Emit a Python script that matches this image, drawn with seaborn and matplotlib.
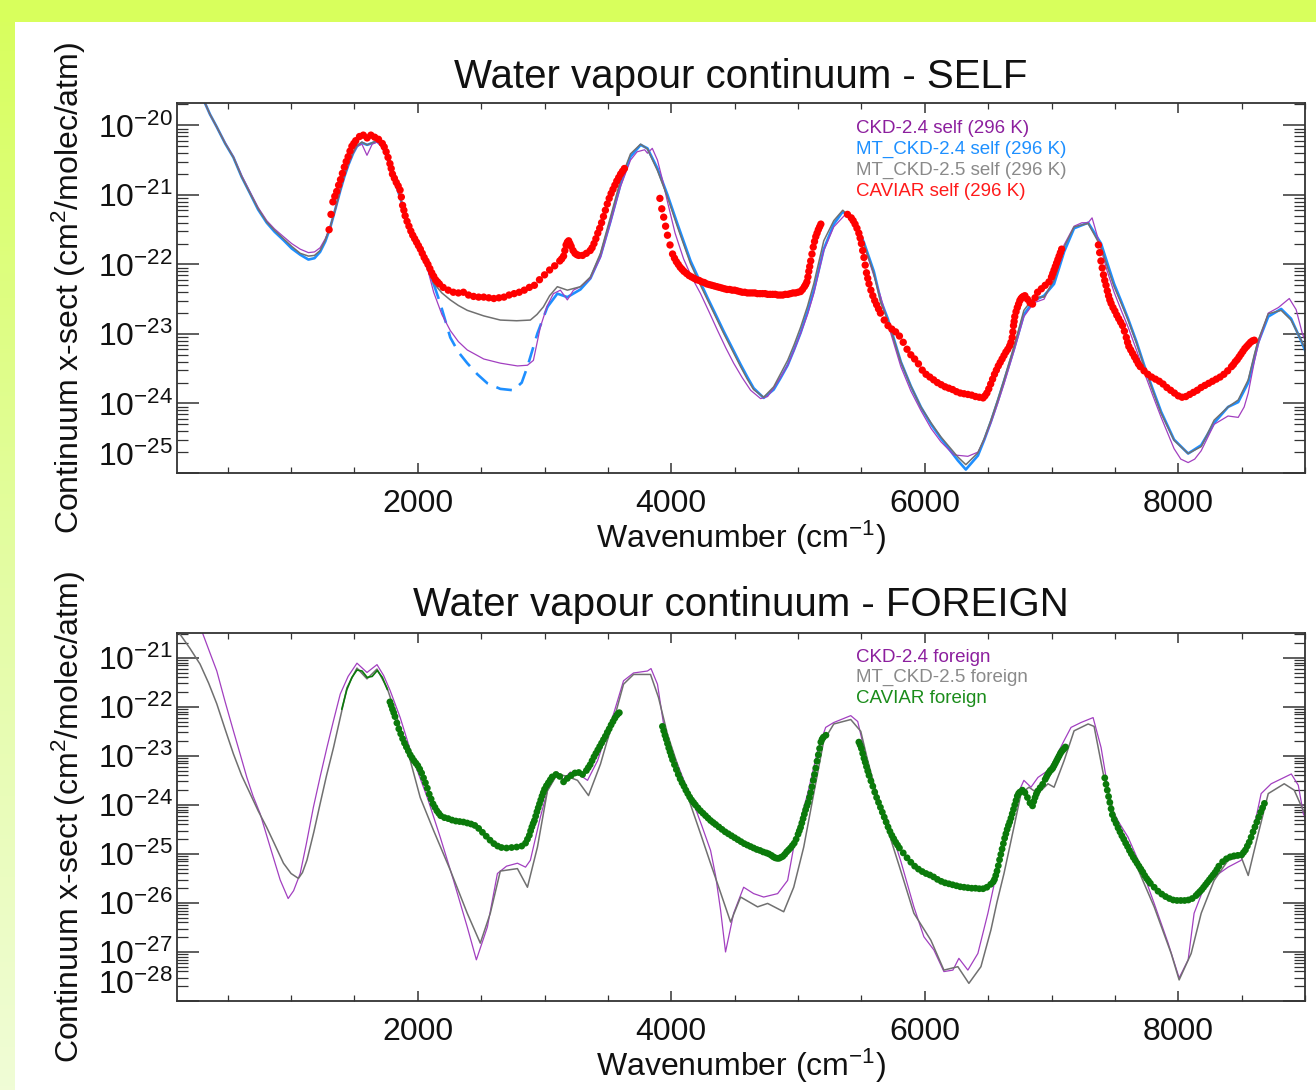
import numpy as np
import pandas as pd
import matplotlib
matplotlib.use("Agg")
import matplotlib.pyplot as plt
import seaborn as sns
from matplotlib.ticker import LogLocator, MultipleLocator, NullFormatter
from matplotlib.colors import LinearSegmentedColormap
from matplotlib.patches import Rectangle

# ---------------- DATA (log10 of cross-section, cm^2/molec/atm) ----------------
# --- SELF panel ---
ckd24_self_wn = [250, 321, 360, 413, 480, 545, 610, 677, 740, 808, 870, 940, 1005, 1072, 1137, 1185, 1229, 1270,
                 1309, 1350, 1388, 1420, 1454, 1490, 1520, 1559, 1599, 1640,
                 1678, 1720, 1757, 1809, 1861, 1914, 1993, 2072, 2125, 2190, 2256, 2320, 2390, 2520, 2651, 2786,
                 2865, 2912, 2967, 3020, 3070, 3125, 3180, 3228, 3283, 3362, 3441, 3520, 3599, 3678, 3730, 3790,
                 3812, 3850, 3891, 3930, 3970, 4030, 4097, 4160, 4231, 4300, 4365, 4430, 4492, 4560, 4626, 4705,
                 4760, 4808, 4860, 4918, 4970, 5021, 5075, 5124, 5203, 5282, 5369, 5440, 5500, 5550, 5600, 5653,
                 5730, 5811, 5890, 5969, 6050, 6127, 6230, 6340, 6419, 6470, 6522, 6575, 6625, 6703, 6782, 6862,
                 6941, 7020, 7060, 7099, 7178, 7240, 7289, 7320, 7391, 7440, 7494, 7550, 7604, 7670, 7731, 7800,
                 7865, 7967, 8020, 8078, 8130, 8181, 8283, 8393, 8473, 8520, 8552, 8600, 8631, 8710, 8790,
                 8876, 8930, 8980, 9050]
ckd24_self_log = [-19.45, -19.68, -19.84, -20.02, -20.25, -20.45, -20.72, -20.96, -21.18, -21.37, -21.49, -21.60,
                  -21.70, -21.78, -21.83, -21.82, -21.76, -21.63, -21.46, -21.20, -20.94, -20.74, -20.56, -20.40,
                  -20.30, -20.27, -20.43, -20.27,
                  -20.24, -20.31, -20.46, -20.75, -21.04, -21.37, -21.71, -22.03, -22.40, -22.72, -22.95, -23.11,
                  -23.23, -23.36, -23.42, -23.46, -23.45, -23.38, -22.90, -22.60, -22.42, -22.37, -22.51, -22.37,
                  -22.32, -22.20, -21.90, -21.40, -20.88, -20.50, -20.38, -20.35, -20.40, -20.33, -20.50, -20.78,
                  -21.10, -21.55, -21.92, -22.18, -22.42, -22.69, -22.95, -23.20, -23.42, -23.63, -23.81, -23.93,
                  -23.90, -23.78, -23.63, -23.45, -23.23, -22.99, -22.72, -22.42, -21.80, -21.46, -21.29, -21.36,
                  -21.60, -21.89, -22.17, -22.47, -22.98, -23.47, -23.82, -24.10, -24.36, -24.55, -24.74, -24.76,
                  -24.70, -24.52, -24.28, -24.00, -23.72, -23.25, -22.75, -22.55, -22.50, -22.20, -21.95, -21.72,
                  -21.45, -21.40, -21.40, -21.33, -21.78, -22.10, -22.40, -22.66, -22.90, -23.23, -23.55, -23.89,
                  -24.20, -24.65, -24.80, -24.85, -24.80, -24.68, -24.30, -24.18, -24.20, -24.05, -23.85, -23.40,
                  -23.15, -22.70, -22.62, -22.49, -22.65, -23.00, -23.30]

mtckd24_self_wn = [250, 321, 360, 413, 480, 545, 610, 677, 740, 808, 870, 940, 1005, 1072, 1137, 1185, 1229, 1270,
                   1309, 1350, 1388, 1420, 1454, 1490, 1520, 1559, 1600, 1678, 1720,
                   1757, 1809, 1861, 1914, 1993, 2072, 2125, 2177, 2256, 2320, 2390, 2470, 2549, 2651, 2754, 2820,
                   2865, 2944, 3023, 3101, 3180, 3283, 3362, 3441, 3520, 3599, 3678, 3758, 3812, 3891, 3970, 4049,
                   4152, 4220, 4286, 4350, 4413, 4480, 4547, 4600, 4650, 4729, 4808, 4860, 4918, 4970, 5021, 5075,
                   5124, 5203, 5282, 5353, 5440, 5519, 5598, 5653, 5708, 5811, 5890, 5969, 6050, 6127, 6261, 6324,
                   6419, 6470, 6522, 6575, 6625, 6703, 6782, 6862, 6941, 7020, 7060, 7099, 7178, 7289, 7391, 7440,
                   7494, 7550, 7604, 7670, 7731, 7800, 7865, 7967, 8078, 8181, 8230, 8283, 8393, 8473, 8552, 8600,
                   8631, 8710, 8812, 8890, 8970, 9050]
mtckd24_self_log = [-19.45, -19.68, -19.84, -20.02, -20.26, -20.46, -20.74, -20.98, -21.21, -21.40, -21.53, -21.65,
                    -21.77, -21.86, -21.93, -21.91, -21.82, -21.67, -21.47, -21.20, -20.94, -20.74, -20.56, -20.40,
                    -20.30, -20.25, -20.28, -20.23, -20.30,
                    -20.46, -20.75, -21.04, -21.37, -21.72, -22.02, -22.28, -22.56, -23.05, -23.26, -23.42, -23.58,
                    -23.71, -23.79, -23.81, -23.70, -23.47, -22.99, -22.61, -22.42, -22.47, -22.36, -22.20, -21.88,
                    -21.38, -20.85, -20.45, -20.28, -20.33, -20.62, -21.00, -21.42, -21.95, -22.22, -22.48, -22.72,
                    -22.96, -23.20, -23.44, -23.62, -23.78, -23.92, -23.80, -23.64, -23.45, -23.22, -22.98, -22.68,
                    -22.38, -21.78, -21.42, -21.24, -21.36, -21.68, -22.10, -22.52, -22.78, -23.40, -23.75, -24.05,
                    -24.30, -24.50, -24.82, -24.95, -24.75, -24.52, -24.26, -23.97, -23.68, -23.22, -22.72, -22.52,
                    -22.45, -22.28, -22.05, -21.82, -21.48, -21.40, -21.70, -21.98, -22.28, -22.53, -22.78, -23.11,
                    -23.45, -23.80, -24.12, -24.52, -24.72, -24.60, -24.45, -24.28, -24.05, -23.98, -23.70, -23.35,
                    -23.12, -22.75, -22.64, -22.78, -23.10, -23.45]
mtckd24_dashed_range = [2125, 3023]   # extrapolated part drawn dashed

mtckd25_self_wn = [250, 321, 360, 413, 480, 545, 610, 677, 740, 808, 870, 940, 1005, 1072, 1137, 1185, 1229, 1270,
                   1309, 1350, 1388, 1420, 1454, 1490, 1520, 1559, 1600, 1678, 1720,
                   1757, 1809, 1861, 1914, 1993, 2072, 2125, 2190, 2256, 2320, 2390, 2520, 2651, 2780, 2888, 2940,
                   2991, 3040, 3101, 3180, 3283, 3362, 3441, 3520, 3599, 3678, 3758, 3812, 3891, 3970, 4049, 4152,
                   4220, 4286, 4350, 4413, 4480, 4547, 4600, 4650, 4729, 4808, 4860, 4918, 4970, 5021, 5075, 5124,
                   5203, 5282, 5353, 5440, 5519, 5598, 5653, 5708, 5811, 5890, 5969, 6050, 6127, 6261, 6324, 6419,
                   6470, 6522, 6575, 6625, 6703, 6782, 6862, 6941, 7020, 7060, 7099, 7178, 7289, 7391, 7440, 7494,
                   7550, 7604, 7670, 7731, 7800, 7865, 7967, 8078, 8181, 8230, 8283, 8393, 8473, 8552, 8600, 8631,
                   8710, 8812, 8890, 8970, 9050]
mtckd25_self_log = [-19.45, -19.68, -19.84, -20.02, -20.26, -20.46, -20.74, -20.98, -21.20, -21.39, -21.51, -21.63,
                    -21.74, -21.84, -21.88, -21.87, -21.80, -21.65, -21.46, -21.20, -20.93, -20.73, -20.55, -20.39,
                    -20.29, -20.24, -20.28, -20.22, -20.30,
                    -20.45, -20.74, -21.03, -21.36, -21.70, -21.99, -22.27, -22.41, -22.51, -22.59, -22.66, -22.74,
                    -22.80, -22.81, -22.80, -22.72, -22.61, -22.45, -22.32, -22.37, -22.32, -22.18, -21.84, -21.32,
                    -20.79, -20.41, -20.27, -20.34, -20.65, -21.03, -21.46, -21.99, -22.26, -22.51, -22.75, -22.99,
                    -23.23, -23.47, -23.65, -23.80, -23.91, -23.76, -23.58, -23.38, -23.15, -22.90, -22.60, -22.28,
                    -21.66, -21.37, -21.22, -21.37, -21.70, -22.13, -22.55, -22.80, -23.40, -23.75, -24.05, -24.28,
                    -24.48, -24.77, -24.88, -24.71, -24.50, -24.24, -23.95, -23.66, -23.19, -22.66, -22.47, -22.47,
                    -22.23, -22.00, -21.75, -21.46, -21.41, -21.75, -22.03, -22.32, -22.56, -22.80, -23.13, -23.47,
                    -23.82, -24.14, -24.53, -24.72, -24.62, -24.44, -24.24, -24.05, -23.95, -23.66, -23.30, -23.09,
                    -22.71, -22.66, -22.80, -23.09, -23.40]

caviar_self_wn_1 = [1300, 1315, 1330, 1345, 1360, 1375, 1390, 1405, 1420, 1435, 1450, 1465, 1480, 1495, 1510, 1540,
                    1570, 1600, 1630, 1660, 1690, 1720, 1735, 1750, 1765, 1780, 1790, 1800, 1815, 1830, 1845, 1860,
                    1870, 1880, 1890, 1900, 1915, 1930, 1945, 1960, 1975, 1990, 2005, 2020, 2035, 2050, 2065, 2080,
                    2095, 2110, 2125, 2140, 2155, 2170, 2200, 2240, 2280, 2320, 2360, 2400, 2440, 2480, 2520, 2560,
                    2600, 2640, 2680, 2720, 2760, 2800, 2840, 2880, 2920, 2960, 3000, 3040, 3080, 3120, 3135, 3150,
                    3160, 3170, 3180, 3190, 3200, 3210, 3225, 3240, 3255, 3270, 3300, 3330, 3360, 3375, 3390, 3405,
                    3420, 3435, 3450, 3465, 3480, 3495, 3510, 3525, 3540, 3555, 3570, 3585, 3600, 3615, 3630]
caviar_self_log_1 = [-21.50, -21.28, -21.10, -21.02, -20.95, -20.86, -20.78, -20.69, -20.60, -20.52, -20.45, -20.37,
                     -20.30, -20.26, -20.22, -20.16, -20.14, -20.18, -20.14, -20.17, -20.20, -20.26, -20.31, -20.38,
                     -20.46, -20.55, -20.62, -20.70, -20.76, -20.82, -20.87, -20.93, -21.03, -21.15, -21.22, -21.30,
                     -21.38, -21.45, -21.52, -21.58, -21.63, -21.68, -21.73, -21.78, -21.84, -21.90, -21.95, -22.00,
                     -22.06, -22.12, -22.17, -22.22, -22.25, -22.28, -22.33, -22.37, -22.40, -22.41, -22.40, -22.44,
                     -22.46, -22.47, -22.47, -22.48, -22.49, -22.48, -22.47, -22.44, -22.42, -22.40, -22.37, -22.33,
                     -22.30, -22.22, -22.15, -22.08, -22.02, -21.95, -21.92, -21.88, -21.80, -21.72, -21.68, -21.66,
                     -21.70, -21.74, -21.80, -21.84, -21.86, -21.87, -21.87, -21.84, -21.80, -21.76, -21.70, -21.63,
                     -21.55, -21.48, -21.40, -21.31, -21.22, -21.13, -21.05, -20.98, -20.92, -20.86, -20.80, -20.75,
                     -20.70, -20.66, -20.62]
caviar_self_wn_2 = [3910, 3925, 3940, 3955, 3970, 3990, 4010, 4025, 4040, 4055, 4070, 4085, 4100, 4120, 4140, 4160,
                    4180, 4200, 4220, 4240, 4260, 4280, 4300, 4320, 4340, 4360, 4380, 4400, 4420, 4440, 4460, 4480,
                    4500, 4520, 4540, 4560, 4580, 4600, 4620, 4640, 4660, 4680, 4700, 4720, 4740, 4760, 4780, 4800,
                    4820, 4840, 4860, 4880, 4900, 4920, 4940, 4960, 4980, 5000, 5020, 5035, 5050, 5060, 5070, 5078,
                    5085, 5092, 5100, 5110, 5120, 5130, 5140, 5150, 5160, 5170, 5180]
caviar_self_log_2 = [-21.05, -21.20, -21.32, -21.45, -21.58, -21.72, -21.85, -21.91, -21.96, -22.00, -22.04, -22.07,
                     -22.10, -22.13, -22.16, -22.18, -22.20, -22.22, -22.23, -22.25, -22.26, -22.28, -22.29, -22.30,
                     -22.31, -22.32, -22.33, -22.34, -22.35, -22.36, -22.36, -22.37, -22.37, -22.38, -22.39, -22.40,
                     -22.40, -22.41, -22.41, -22.41, -22.41, -22.42, -22.42, -22.42, -22.42, -22.43, -22.43, -22.43,
                     -22.43, -22.44, -22.44, -22.44, -22.43, -22.43, -22.42, -22.41, -22.41, -22.40, -22.39, -22.36,
                     -22.32, -22.29, -22.25, -22.18, -22.10, -22.03, -21.95, -21.85, -21.75, -21.67, -21.60, -21.55,
                     -21.50, -21.46, -21.42]
caviar_self_wn_3 = [5390, 5420, 5435, 5450, 5465, 5480, 5490, 5500, 5510, 5520, 5530, 5540, 5550, 5560, 5575, 5590,
                    5605, 5620, 5635, 5650, 5680, 5710, 5740, 5770, 5800, 5830, 5860, 5890, 5920, 5950, 5980, 6010,
                    6040, 6070, 6100, 6130, 6160, 6190, 6220, 6250, 6280, 6310, 6340, 6370, 6400, 6430, 6460, 6475,
                    6490, 6505, 6520, 6535, 6550, 6565, 6580, 6595, 6610, 6625, 6640, 6655, 6670, 6680, 6690, 6695,
                    6700, 6705, 6710, 6720, 6730, 6740, 6750, 6760, 6770, 6780, 6790, 6810, 6830, 6850, 6870, 6890,
                    6920, 6950, 6980, 7000, 7010, 7020, 7030, 7040, 7050, 7060, 7070, 7080]
caviar_self_log_3 = [-21.28, -21.33, -21.37, -21.42, -21.48, -21.55, -21.62, -21.70, -21.80, -21.90, -22.01, -22.12,
                     -22.20, -22.28, -22.37, -22.45, -22.52, -22.58, -22.64, -22.70, -22.80, -22.88, -22.93, -22.97,
                     -23.03, -23.12, -23.22, -23.30, -23.36, -23.43, -23.52, -23.58, -23.62, -23.66, -23.70, -23.73,
                     -23.76, -23.78, -23.80, -23.83, -23.85, -23.86, -23.87, -23.88, -23.90, -23.91, -23.92, -23.89,
                     -23.85, -23.79, -23.72, -23.65, -23.58, -23.52, -23.46, -23.41, -23.36, -23.31, -23.26, -23.22,
                     -23.17, -23.12, -23.05, -22.97, -22.88, -22.82, -22.75, -22.68, -22.62, -22.57, -22.52, -22.49,
                     -22.47, -22.46, -22.45, -22.50, -22.55, -22.57, -22.48, -22.40, -22.35, -22.30, -22.25, -22.18,
                     -22.13, -22.08, -22.03, -21.98, -21.93, -21.88, -21.83, -21.78]
caviar_self_wn_4 = [7370, 7380, 7390, 7400, 7410, 7420, 7430, 7440, 7450, 7460, 7470, 7485, 7500, 7515, 7530, 7545,
                    7560, 7575, 7590, 7600, 7610, 7625, 7640, 7655, 7670, 7685, 7700, 7730, 7760, 7790, 7820, 7850,
                    7880, 7910, 7940, 7970, 8000, 8030, 8060, 8090, 8120, 8150, 8180, 8210, 8240, 8270, 8300, 8330,
                    8360, 8390, 8420, 8435, 8450, 8465, 8480, 8495, 8510, 8525, 8540, 8555, 8570, 8585, 8600]
caviar_self_log_4 = [-21.72, -21.83, -21.95, -22.05, -22.15, -22.23, -22.30, -22.38, -22.45, -22.51, -22.56, -22.62,
                     -22.67, -22.73, -22.78, -22.83, -22.88, -22.96, -23.05, -23.12, -23.18, -23.23, -23.28, -23.33,
                     -23.38, -23.43, -23.47, -23.53, -23.58, -23.62, -23.65, -23.68, -23.72, -23.77, -23.81, -23.85,
                     -23.89, -23.91, -23.90, -23.87, -23.84, -23.81, -23.77, -23.74, -23.71, -23.68, -23.65, -23.62,
                     -23.58, -23.53, -23.47, -23.44, -23.40, -23.37, -23.33, -23.29, -23.25, -23.21, -23.18, -23.15,
                     -23.12, -23.10, -23.09]

# --- FOREIGN panel ---
ckd24_for_wn = [250, 305, 360, 414, 480, 545, 600, 651, 700, 756, 835, 914, 977, 1020, 1072, 1120, 1176, 1230, 1283,
                1335, 1388, 1450, 1520, 1599, 1678, 1730, 1782, 1861,
                1967, 2075, 2177, 2282, 2390, 2462, 2549, 2628, 2700, 2786, 2850, 2888, 2967, 3023, 3101, 3149,
                3204, 3283, 3339, 3418, 3480, 3544, 3623, 3702, 3812, 3840, 3891, 3939, 3990, 4049, 4110, 4176,
                4240, 4310, 4350, 4389, 4428, 4492, 4571, 4650, 4729, 4839, 4918, 4966, 5020, 5076, 5155, 5218,
                5282, 5416, 5471, 5519, 5560, 5598, 5650, 5708, 5811, 5914, 5993, 6072, 6151, 6222, 6269, 6340,
                6419, 6498, 6577, 6656, 6735, 6782, 6838, 6893, 6972, 7020, 7099, 7154, 7233, 7328, 7391, 7470,
                7530, 7604, 7707, 7810, 7920, 8007, 8078, 8125, 8204, 8283, 8393, 8496, 8576, 8654, 8733, 8892,
                8947, 8987, 9050]
ckd24_for_log = [-20.20, -20.52, -20.90, -21.27, -21.90, -22.49, -22.98, -23.44, -23.82, -24.18, -24.86, -25.53,
                 -25.91, -25.75, -25.40, -24.80, -24.05, -23.42, -22.83, -22.28, -21.74, -21.38, -21.11, -21.30,
                 -21.14, -21.36, -21.67, -22.22,
                 -23.10, -23.85, -24.66, -25.54, -26.49, -27.16, -26.49, -25.40, -25.25, -25.19, -25.27, -25.13,
                 -24.25, -23.71, -23.33, -23.48, -23.33, -23.40, -23.50, -23.10, -22.62, -22.15, -21.47, -21.31,
                 -21.27, -21.22, -21.54, -22.35, -22.78, -23.17, -23.57, -23.97, -24.42, -24.93, -25.45, -26.15,
                 -27.00, -26.21, -25.68, -25.81, -25.88, -25.81, -25.54, -24.86, -24.30, -23.77, -22.89, -22.42,
                 -22.32, -22.18, -22.30, -22.83, -23.28, -23.64, -24.00, -24.32, -25.15, -26.08, -26.69, -26.96,
                 -27.40, -27.37, -27.13, -27.37, -27.03, -26.21, -25.27, -24.52, -23.77, -23.50, -23.64, -23.44,
                 -23.30, -23.10, -22.69, -22.42, -22.32, -22.22, -22.83, -24.05, -24.35, -24.66, -25.27, -26.01,
                 -26.82, -27.53, -27.16, -26.21, -25.68, -25.47, -25.27, -25.13, -24.72, -23.77, -23.57, -23.37,
                 -23.60, -24.18, -24.50]

mtckd25_for_wn = [100, 124, 200, 282, 350, 414, 480, 545, 610, 677, 740, 808, 870, 940, 1000, 1058, 1090, 1125, 1180,
                  1229, 1280, 1335, 1390, 1441, 1520, 1599, 1678, 1757,
                  1836, 1941, 2019, 2124, 2256, 2390, 2493, 2572, 2651, 2786, 2865, 2944, 3023, 3101, 3180, 3260,
                  3347, 3441, 3490, 3544, 3623, 3702, 3836, 3899, 3970, 4073, 4150, 4231, 4300, 4365, 4468, 4547,
                  4681, 4760, 4887, 4966, 5045, 5124, 5203, 5282, 5416, 5495, 5550, 5600, 5653, 5756, 5811, 5914,
                  6048, 6151, 6261, 6348, 6443, 6522, 6570, 6625, 6703, 6759, 6822, 6893, 6972, 7020, 7099, 7178,
                  7289, 7336, 7414, 7494, 7570, 7652, 7730, 7810, 7944, 8007, 8102, 8181, 8283, 8393, 8496, 8552,
                  8631, 8710, 8836, 8915, 8987, 9050]
mtckd25_for_log = [-20.35, -20.52, -20.80, -21.13, -21.52, -21.94, -22.46, -22.96, -23.40, -23.77, -24.12, -24.46,
                   -24.80, -25.19, -25.40, -25.50, -25.38, -25.13, -24.55, -23.98, -23.40, -22.83, -22.20, -21.61,
                   -21.21, -21.43, -21.23, -21.61,
                   -22.22, -23.10, -23.85, -24.52, -25.33, -26.21, -26.82, -26.21, -25.35, -25.30, -25.68, -24.86,
                   -23.71, -23.37, -23.42, -23.50, -23.81, -23.17, -22.73, -22.29, -21.54, -21.34, -21.34, -21.81,
                   -22.56, -23.37, -23.98, -24.59, -25.12, -25.61, -26.39, -25.88, -26.08, -26.01, -26.18, -25.68,
                   -24.86, -23.77, -22.69, -22.35, -22.26, -22.50, -23.10, -23.58, -24.05, -24.90, -25.35, -26.21,
                   -26.76, -27.37, -27.30, -27.64, -27.30, -26.55, -25.98, -25.40, -24.46, -23.77, -23.64, -23.77,
                   -23.57, -23.64, -23.10, -22.49, -22.35, -22.40, -23.44, -24.18, -24.65, -25.13, -25.60, -26.08,
                   -27.03, -27.57, -27.03, -26.21, -25.54, -25.13, -25.06, -25.44, -24.59, -23.77, -23.57, -23.70,
                   -24.12, -24.40]

caviar_for_band1_wn = [1400, 1440, 1480, 1520, 1560, 1600, 1640, 1680, 1720, 1760]
caviar_for_band1_log = [-22.05, -21.65, -21.40, -21.25, -21.27, -21.40, -21.38, -21.26, -21.40, -21.65]

caviar_for_wn_1 = [1780, 1790, 1800, 1810, 1820, 1835, 1850, 1865, 1880, 1895, 1910, 1925, 1940, 1955, 1970, 1985,
                   2000, 2015, 2030, 2045, 2060, 2075, 2090, 2105, 2120, 2135, 2150, 2165, 2180, 2210, 2240, 2270,
                   2300, 2330, 2360, 2390, 2420, 2450, 2480, 2510, 2540, 2570, 2600, 2630, 2660, 2700, 2740, 2780,
                   2820, 2850, 2865, 2880, 2890, 2900, 2910, 2920, 2930, 2940, 2950, 2960, 2970, 2980, 2990, 3000,
                   3015, 3030, 3045, 3060, 3090, 3120, 3150, 3180, 3210, 3240, 3270, 3300, 3330, 3345, 3360, 3375,
                   3390, 3405, 3420, 3435, 3450, 3465, 3480, 3495, 3510, 3525, 3540, 3555, 3570, 3580, 3590]
caviar_for_log_1 = [-21.90, -21.97, -22.05, -22.12, -22.20, -22.33, -22.45, -22.55, -22.65, -22.74, -22.82, -22.90,
                    -22.98, -23.04, -23.10, -23.15, -23.20, -23.27, -23.35, -23.45, -23.55, -23.66, -23.78, -23.88,
                    -23.98, -24.05, -24.12, -24.17, -24.22, -24.26, -24.28, -24.31, -24.33, -24.34, -24.35, -24.37,
                    -24.39, -24.42, -24.48, -24.56, -24.64, -24.72, -24.79, -24.84, -24.87, -24.88, -24.87, -24.86,
                    -24.84, -24.78, -24.70, -24.62, -24.53, -24.45, -24.38, -24.32, -24.23, -24.14, -24.06, -23.98,
                    -23.90, -23.82, -23.75, -23.68, -23.61, -23.55, -23.49, -23.43, -23.38, -23.42, -23.53, -23.46,
                    -23.40, -23.35, -23.34, -23.38, -23.30, -23.24, -23.18, -23.10, -23.02, -22.95, -22.88, -22.81,
                    -22.74, -22.67, -22.60, -22.52, -22.45, -22.37, -22.30, -22.23, -22.17, -22.14, -22.12]
caviar_for_wn_2 = [3930, 3940, 3950, 3960, 3970, 3980, 3990, 4000, 4010, 4025, 4040, 4055, 4070, 4085, 4100, 4115,
                   4130, 4145, 4160, 4175, 4190, 4210, 4230, 4250, 4270, 4290, 4310, 4330, 4350, 4375, 4400, 4425,
                   4450, 4475, 4500, 4525, 4550, 4575, 4600, 4625, 4650, 4675, 4700, 4725, 4750, 4770, 4790, 4805,
                   4820, 4835, 4850, 4865, 4880, 4895, 4910, 4925, 4940, 4955, 4970, 4985, 5000, 5010, 5020, 5030,
                   5040, 5050, 5060, 5070, 5080, 5090, 5100, 5110, 5120, 5130, 5140, 5150, 5160, 5170, 5180, 5190,
                   5200, 5220]
caviar_for_log_2 = [-22.40, -22.49, -22.58, -22.66, -22.75, -22.84, -22.92, -23.00, -23.08, -23.18, -23.28, -23.38,
                    -23.47, -23.55, -23.62, -23.70, -23.77, -23.84, -23.90, -23.95, -24.00, -24.06, -24.12, -24.17,
                    -24.22, -24.27, -24.32, -24.36, -24.40, -24.45, -24.50, -24.55, -24.59, -24.63, -24.67, -24.71,
                    -24.75, -24.79, -24.82, -24.85, -24.88, -24.91, -24.93, -24.96, -24.98, -25.00, -25.03, -25.06,
                    -25.08, -25.09, -25.09, -25.07, -25.05, -25.01, -24.96, -24.92, -24.88, -24.83, -24.78, -24.70,
                    -24.60, -24.53, -24.46, -24.37, -24.28, -24.19, -24.10, -24.02, -23.95, -23.85, -23.75, -23.63,
                    -23.50, -23.38, -23.25, -23.11, -22.98, -22.85, -22.72, -22.66, -22.62, -22.58]
caviar_for_wn_3 = [5480, 5490, 5500, 5510, 5520, 5530, 5540, 5550, 5560, 5575, 5590, 5605, 5620, 5635, 5650, 5665,
                   5680, 5695, 5710, 5725, 5740, 5755, 5770, 5785, 5800, 5830, 5860, 5890, 5920, 5950, 5980, 6010,
                   6040, 6070, 6100, 6130, 6160, 6190, 6220, 6250, 6280, 6310, 6340, 6370, 6400, 6430, 6460, 6490,
                   6520, 6540, 6550, 6560, 6570, 6580, 6590, 6600, 6610, 6620, 6630, 6640, 6650, 6660, 6670, 6680,
                   6690, 6700, 6710, 6720, 6730, 6740, 6750, 6770, 6790, 6810, 6830, 6850, 6860, 6870, 6880, 6890,
                   6910, 6930, 6950, 6960, 6970, 6980, 6990, 7000, 7010, 7020, 7030, 7040, 7050, 7060, 7070, 7080,
                   7090, 7100, 7110]
caviar_for_log_3 = [-22.72, -22.78, -22.85, -22.95, -23.05, -23.13, -23.22, -23.31, -23.40, -23.51, -23.62, -23.74,
                    -23.85, -23.95, -24.05, -24.15, -24.25, -24.35, -24.45, -24.54, -24.62, -24.69, -24.76, -24.82,
                    -24.88, -24.98, -25.08, -25.17, -25.25, -25.31, -25.36, -25.40, -25.43, -25.47, -25.52, -25.56,
                    -25.59, -25.61, -25.63, -25.65, -25.67, -25.68, -25.69, -25.70, -25.70, -25.71, -25.71, -25.68,
                    -25.62, -25.57, -25.52, -25.44, -25.35, -25.24, -25.12, -25.01, -24.90, -24.79, -24.68, -24.59,
                    -24.50, -24.42, -24.35, -24.27, -24.18, -24.09, -24.00, -23.91, -23.82, -23.77, -23.74, -23.70,
                    -23.75, -23.85, -23.96, -24.02, -23.93, -23.85, -23.78, -23.72, -23.65, -23.58, -23.48, -23.43,
                    -23.38, -23.34, -23.30, -23.28, -23.25, -23.20, -23.15, -23.10, -23.05, -23.00, -22.95, -22.91,
                    -22.88, -22.85, -22.82]
caviar_for_wn_4 = [7420, 7430, 7440, 7450, 7460, 7470, 7480, 7495, 7510, 7525, 7540, 7555, 7570, 7585, 7600, 7615,
                   7630, 7645, 7660, 7675, 7690, 7705, 7720, 7735, 7750, 7765, 7780, 7810, 7840, 7870, 7900, 7930,
                   7960, 7990, 8020, 8050, 8080, 8110, 8140, 8155, 8170, 8185, 8200, 8215, 8230, 8245, 8260, 8275,
                   8290, 8305, 8320, 8350, 8380, 8410, 8440, 8470, 8500, 8515, 8530, 8545, 8560, 8575, 8590, 8605,
                   8620, 8635, 8650, 8665, 8680]
caviar_for_log_4 = [-23.45, -23.58, -23.70, -23.83, -23.95, -24.08, -24.20, -24.30, -24.38, -24.47, -24.55, -24.63,
                    -24.70, -24.78, -24.85, -24.93, -25.00, -25.07, -25.13, -25.19, -25.25, -25.31, -25.37, -25.44,
                    -25.50, -25.55, -25.60, -25.68, -25.76, -25.82, -25.87, -25.91, -25.94, -25.95, -25.95, -25.95,
                    -25.94, -25.91, -25.85, -25.81, -25.77, -25.73, -25.68, -25.63, -25.58, -25.53, -25.48, -25.43,
                    -25.38, -25.32, -25.25, -25.16, -25.10, -25.06, -25.04, -25.03, -25.02, -24.97, -24.92, -24.84,
                    -24.76, -24.66, -24.55, -24.45, -24.35, -24.25, -24.15, -24.06, -23.97]

self_legend = ["CKD-2.4 self (296 K)", "MT_CKD-2.4 self (296 K)", "MT_CKD-2.5 self (296 K)", "CAVIAR self (296 K)"]
foreign_legend = ["CKD-2.4 foreign", "MT_CKD-2.5 foreign", "CAVIAR foreign"]
titles = ["Water vapour continuum - SELF", "Water vapour continuum - FOREIGN"]
xlabel = "Wavenumber (cm$^{-1}$)"
ylabel = "Continuum x-sect (cm$^{2}$/molec/atm)"

# ---------------- STYLE ----------------
sns.set_theme(style="ticks")
plt.rcParams["font.family"] = ["Liberation Sans", "DejaVu Sans"]
plt.rcParams["mathtext.fontset"] = "custom"
plt.rcParams["mathtext.rm"] = "Liberation Sans"
plt.rcParams["mathtext.it"] = "Liberation Sans:italic"
plt.rcParams["mathtext.bf"] = "Liberation Sans:bold"
plt.rcParams["axes.unicode_minus"] = False

C_PURPLE = "#a23fc0"
C_BLUE = "#1e8fff"
C_GRAY = "#707070"
C_RED = "#ff0000"
C_GREEN = "#0b7a0b"
TXT_PURPLE = "#8c1f9e"
TXT_BLUE = "#1e90ff"
TXT_GRAY = "#8a8a8a"
TXT_RED = "#ff1a1a"
TXT_GREEN = "#1a8c1a"
AX_COL = "#333333"

W, H = 1316, 1090
fig = plt.figure(figsize=(W / 100, H / 100), dpi=100, facecolor="white")

# background slide decoration
bg = fig.add_axes([0, 0, 1, 1], zorder=-10)
grad = np.linspace(0, 1, 256).reshape(-1, 1)
cmap = LinearSegmentedColormap.from_list("g", ["#f0fcd6", "#e3fda0", "#d8ff5c"])
bg.imshow(grad, extent=[0, 15 / W, 0, 1], origin="lower", cmap=cmap, aspect="auto")
bg.add_patch(Rectangle((0, 1 - 22 / H), 1, 22 / H, color="#d8ff5c", lw=0))
bg.set_xlim(0, 1)
bg.set_ylim(0, 1)
bg.axis("off")

ax1 = fig.add_axes([177 / W, 1 - 473 / H, 1128 / W, 370 / H])
ax2 = fig.add_axes([177 / W, 1 - 1001 / H, 1128 / W, 368 / H])


def to_df(wn, lg):
    return pd.DataFrame({"wn": np.asarray(wn, float), "val": 10.0 ** np.asarray(lg, float)})


def line(ax, df, color, lw, ls="-"):
    sns.lineplot(data=df, x="wn", y="val", ax=ax, color=color, lw=lw, linestyle=ls,
                 estimator=None, sort=False, legend=False)


def dots(ax, wn_list, log_list, color, size):
    df = pd.concat([to_df(w, l) for w, l in zip(wn_list, log_list)], ignore_index=True)
    sns.scatterplot(data=df, x="wn", y="val", ax=ax, color=color, s=size, edgecolor="none",
                    legend=False, zorder=5)


def style_axis(ax, ylim, decades):
    ax.set_yscale("log")
    ax.set_xlim(100, 9000)
    ax.set_ylim(*ylim)
    ax.set_facecolor("white")
    for s in ax.spines.values():
        s.set_visible(True)
        s.set_color(AX_COL)
        s.set_linewidth(1.3)
    ax.xaxis.set_major_locator(MultipleLocator(2000))
    ax.xaxis.set_minor_locator(MultipleLocator(500))
    ax.set_yticks([10.0 ** d for d in decades], labels=[r"$10^{%d}$" % d for d in decades])
    ax.yaxis.set_minor_locator(LogLocator(base=10, subs=np.arange(2, 10), numticks=100))
    ax.yaxis.set_minor_formatter(NullFormatter())
    ax.tick_params(axis="y", which="major", direction="in", length=16, width=1.1, left=True, right=True,
                   labelsize=23, pad=3, colors=AX_COL, labelcolor="#111111")
    ax.tick_params(axis="y", which="minor", direction="in", length=8, width=0.9, left=True, right=True,
                   colors=AX_COL)
    ax.tick_params(axis="x", which="major", direction="in", length=7, width=1.1, top=True, bottom=True,
                   labelsize=23, pad=11.5, colors=AX_COL, labelcolor="#111111")
    ax.tick_params(axis="x", which="minor", direction="in", length=4, width=0.9, top=True, bottom=True,
                   colors=AX_COL)
    ticks = ax.yaxis.get_major_ticks()
    ticks[0].label1.set_va("bottom")
    ax.set_xlabel(xlabel, fontsize=23, labelpad=0, color="#111111")
    ax.set_ylabel(ylabel, fontsize=23, labelpad=7, color="#111111")


# ---------------- SELF panel ----------------
style_axis(ax1, (1e-25, 2.1e-20), list(range(-25, -19)))
blue = to_df(mtckd24_self_wn, mtckd24_self_log)
d0, d1 = mtckd24_dashed_range
line(ax1, blue[blue.wn <= d0], C_BLUE, 1.9)
line(ax1, blue[(blue.wn >= d0) & (blue.wn <= d1)], C_BLUE, 1.9, (0, (6, 3.5)))
line(ax1, blue[blue.wn >= d1], C_BLUE, 1.9)
line(ax1, to_df(ckd24_self_wn, ckd24_self_log), C_PURPLE, 0.9)
line(ax1, to_df(mtckd25_self_wn, mtckd25_self_log), C_GRAY, 1.1)
dots(ax1, [caviar_self_wn_1, caviar_self_wn_2, caviar_self_wn_3, caviar_self_wn_4],
     [caviar_self_log_1, caviar_self_log_2, caviar_self_log_3, caviar_self_log_4], C_RED, 28)
ax1.set_title(titles[0], fontsize=29, pad=11, color="#111111")
for i, (t, c) in enumerate(zip(self_legend, [TXT_PURPLE, TXT_BLUE, TXT_GRAY, TXT_RED])):
    ax1.text(0.602, 0.932 - i * 0.0568, t, color=c, fontsize=13.5, transform=ax1.transAxes,
             ha="left", va="center")

# ---------------- FOREIGN panel ----------------
style_axis(ax2, (1e-28, 3.2e-21), list(range(-28, -20)))
line(ax2, to_df(ckd24_for_wn, ckd24_for_log), C_PURPLE, 0.9)
line(ax2, to_df(mtckd25_for_wn, mtckd25_for_log), C_GRAY, 1.1)
line(ax2, to_df(caviar_for_band1_wn, caviar_for_band1_log), C_GREEN, 1.2)
dots(ax2, [caviar_for_wn_1, caviar_for_wn_2, caviar_for_wn_3, caviar_for_wn_4],
     [caviar_for_log_1, caviar_for_log_2, caviar_for_log_3, caviar_for_log_4], C_GREEN, 24)
ax2.set_title(titles[1], fontsize=29, pad=12, color="#111111")
for i, (t, c) in enumerate(zip(foreign_legend, [TXT_PURPLE, TXT_GRAY, TXT_GREEN])):
    ax2.text(0.602, 0.934 - i * 0.0557, t, color=c, fontsize=13.5, transform=ax2.transAxes,
             ha="left", va="center")

fig.savefig("out.png", dpi=100, facecolor="white")
